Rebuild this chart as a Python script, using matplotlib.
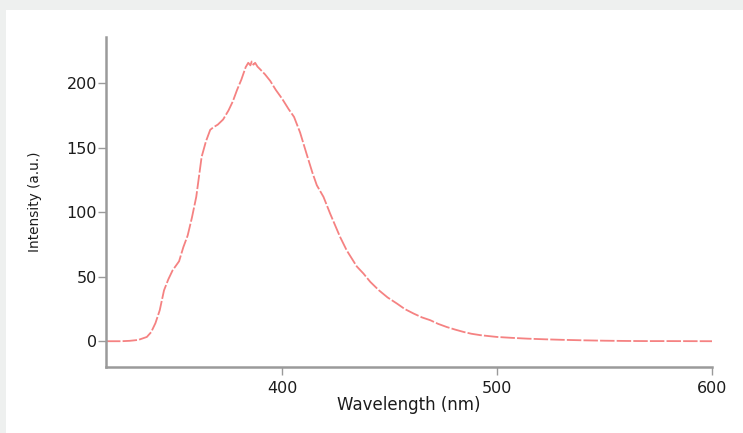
import matplotlib
matplotlib.use("Agg")
import matplotlib.pyplot as plt
from matplotlib.patches import Rectangle

wavelength = [318, 325, 329, 333, 337, 339, 341, 343, 345, 347, 349, 352, 354, 356, 358, 360,
              362.5, 364.5, 366.5, 368, 370, 372.5, 375, 377, 379, 381, 383, 384.2, 385.2, 385.8,
              386.6, 387.4, 388.5, 389.7, 392, 394.4, 397, 400, 403, 405.5, 408.3, 411.4, 414,
              416.1, 419.2, 422.3, 426.9, 430, 434.7, 437.8, 441, 445, 449, 453.4, 457, 461.1,
              465, 468.9, 472.5, 476.6, 480.5, 484.4, 488, 492.2, 496, 500, 507, 514, 522, 530,
              540, 550, 560, 570, 580, 590, 600]
intensity = [0, 0, 0.3, 1, 3.3, 7, 14, 24, 39.5, 48, 55, 62, 73, 82, 96, 112,
             143, 155, 164, 166, 168, 172, 179, 186, 195, 203, 212.6, 216, 214, 217,
             214.5, 216, 213, 211, 207, 202, 195, 188, 180, 174, 162, 145, 131,
             121, 112, 99, 81, 70.5, 58, 52.5, 46, 39.5, 34, 29.2, 25, 21.5,
             18.5, 16.3, 13.5, 11, 9, 7.2, 5.8, 4.7, 4, 3.3, 2.6, 2, 1.5, 1.1,
             0.7, 0.4, 0.2, 0.1, 0.1, 0.05, 0]

x_ticks = [400, 500, 600]
y_ticks = [0, 50, 100, 150, 200]
x_label = "Wavelength (nm)"
y_label = "Intensity (a.u.)"

W, H = 743, 433
fig = plt.figure(figsize=(W / 100, H / 100), dpi=100)
fig.patch.set_facecolor("#eef0ef")
fig.patches.append(Rectangle((6 / W, 0), 1, (H - 10) / H, transform=fig.transFigure,
                             facecolor="white", edgecolor="none", zorder=-10))

ax = fig.add_axes([106 / W, (H - 367) / H, (712 - 106) / W, (367 - 37) / H])
ax.set_facecolor("none")
ax.plot(wavelength, intensity, color="#f47474", lw=1.3, dashes=(8, 1.2), alpha=0.9)

ax.set_xlim(318, 600)
ax.set_ylim(-20, 236)
ax.set_xticks(x_ticks)
ax.set_yticks(y_ticks)

for s in ["top", "right"]:
    ax.spines[s].set_visible(False)
for s in ["left", "bottom"]:
    ax.spines[s].set_color("#9a9a9a")
    ax.spines[s].set_linewidth(1.8)

ax.tick_params(axis="both", colors="#9a9a9a", width=1.0, length=5.5, labelcolor="#1c1c1c",
               labelsize=11.5)
ax.tick_params(axis="y", pad=1.0)
ax.tick_params(axis="x", pad=4.5)
for lab in ax.get_xticklabels() + ax.get_yticklabels():
    lab.set_family("DejaVu Sans")

ax.set_xlabel(x_label, fontsize=12, color="#1c1c1c", family="DejaVu Sans")
ax.xaxis.set_label_coords(0.5, -0.088)
ax.set_ylabel(y_label, fontsize=9.8, color="#1c1c1c", family="DejaVu Sans")
ax.yaxis.set_label_coords(-0.106, 0.5)

fig.savefig("out.png", dpi=100, facecolor=fig.get_facecolor())
